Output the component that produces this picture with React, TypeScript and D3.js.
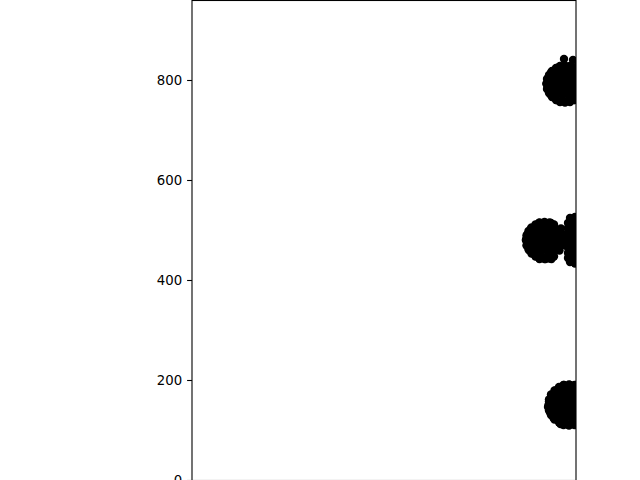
import React, { useEffect, useRef } from 'react';
import * as d3 from 'd3';

type Pt = [number, number];

const yTicks = [0, 200, 400, 600, 800];

// cluster near y ~ 800
const upperCluster: Pt[] = [
  [744, 842], [762, 840], [772, 828],
  [746, 829], [736, 828], [728, 824], [720, 818], [714, 810], [710, 802], [709, 792],
  [710, 782], [714, 774], [720, 766], [728, 760], [736, 756], [746, 755], [756, 756],
  [764, 760], [772, 766], [756, 828], [764, 824], [772, 818],
  [734, 826], [746, 826], [758, 826],
  [718, 815], [730, 815], [742, 815], [754, 815], [766, 815], [778, 815],
  [712, 804], [724, 804], [736, 804], [748, 804], [760, 804], [772, 804], [782, 804],
  [709, 793], [721, 793], [733, 793], [745, 793], [757, 793], [769, 793], [781, 793],
  [711, 782], [723, 782], [735, 782], [747, 782], [759, 782], [771, 782], [782, 782],
  [717, 771], [729, 771], [741, 771], [753, 771], [765, 771], [777, 771],
  [729, 760], [741, 760], [753, 760], [765, 760], [777, 760],
];

// cluster near y ~ 480 (round part + lobe at the right edge)
const middleCluster: Pt[] = [
  [705, 516], [695, 515], [687, 511], [679, 505], [673, 498], [669, 489], [668, 479],
  [669, 469], [673, 461], [679, 453], [687, 447], [695, 443], [705, 442], [715, 443],
  [724, 447], [715, 515], [724, 511],
  [694, 514], [706, 514], [718, 514],
  [678, 503], [690, 503], [702, 503], [714, 503], [726, 503], [738, 503],
  [671, 492], [683, 492], [695, 492], [707, 492], [719, 492], [731, 492], [741, 492],
  [668, 481], [680, 481], [692, 481], [704, 481], [716, 481], [728, 481], [740, 481],
  [670, 470], [682, 470], [694, 470], [706, 470], [718, 470], [730, 470], [742, 470],
  [675, 459], [687, 459], [699, 459], [711, 459], [723, 459], [735, 459],
  [687, 448], [699, 448], [711, 448], [723, 448],
  [695, 442], [707, 442], [719, 442],
  [756, 524], [766, 526], [776, 524],
  [752, 514], [764, 514], [776, 514],
  [752, 504], [764, 504], [776, 504],
  [752, 494], [764, 494], [776, 494],
  [752, 484], [764, 484], [776, 484],
  [752, 474], [764, 474], [776, 474],
  [752, 464], [764, 464], [776, 464],
  [752, 454], [764, 454], [776, 454],
  [752, 444], [764, 444], [776, 444],
  [756, 436], [766, 433], [776, 434],
];

// cluster near y ~ 150
const lowerCluster: Pt[] = [
  [754, 191], [743, 190], [734, 186], [725, 179], [718, 171], [714, 161], [713, 150],
  [714, 139], [718, 130], [725, 121], [734, 115], [743, 110], [754, 109], [765, 110],
  [774, 115], [765, 190], [774, 186],
  [744, 190], [756, 190], [768, 190],
  [727, 179], [739, 179], [751, 179], [763, 179], [775, 179],
  [719, 168], [731, 168], [743, 168], [755, 168], [767, 168], [779, 168],
  [714, 157], [726, 157], [738, 157], [750, 157], [762, 157], [774, 157],
  [712, 146], [724, 146], [736, 146], [748, 146], [760, 146], [772, 146],
  [716, 135], [728, 135], [740, 135], [752, 135], [764, 135], [776, 135],
  [723, 124], [735, 124], [747, 124], [759, 124], [771, 124],
  [737, 112], [749, 112], [761, 112], [773, 112],
];

const App = () => {
  const ref = useRef<SVGSVGElement>(null);

  useEffect(() => {
    const width = 640;
    const height = 480;
    const margin = { top: 0, right: 64, bottom: 0, left: 192 };

    const svg = d3.select(ref.current);
    svg.selectAll('*').remove();

    const x = d3.scaleLinear().domain([0, 768]).range([margin.left, width - margin.right]);
    const y = d3.scaleLinear().domain([0, 960]).range([height - margin.bottom, margin.top]);

    svg
      .append('defs')
      .append('clipPath')
      .attr('id', 'plot-clip')
      .append('rect')
      .attr('x', margin.left)
      .attr('y', margin.top)
      .attr('width', width - margin.left - margin.right)
      .attr('height', height - margin.top - margin.bottom);

    const points = [...upperCluster, ...middleCluster, ...lowerCluster];

    svg
      .append('g')
      .attr('clip-path', 'url(#plot-clip)')
      .selectAll('circle')
      .data(points)
      .enter()
      .append('circle')
      .attr('cx', (d) => x(d[0]))
      .attr('cy', (d) => y(d[1]))
      .attr('r', 4.2)
      .attr('fill', '#000');

    const yAxis = svg
      .append('g')
      .attr('transform', `translate(${margin.left},0)`)
      .call(d3.axisLeft(y).tickValues(yTicks).tickSize(4.9).tickPadding(4.9));

    yAxis.select('.domain').remove();
    yAxis.selectAll('.tick line').style('stroke', '#000').style('stroke-width', '1.1px');
    yAxis
      .selectAll('.tick text')
      .style('font-family', '"DejaVu Sans", sans-serif')
      .style('font-size', '13.3px')
      .style('fill', '#000');

    // frame / spines
    svg
      .append('rect')
      .attr('x', margin.left)
      .attr('y', y(960) + 0.5)
      .attr('width', width - margin.left - margin.right)
      .attr('height', height - margin.top - margin.bottom)
      .attr('fill', 'none')
      .attr('stroke', '#000')
      .attr('stroke-width', 1.1);
  }, []);

  return (
    <svg
      ref={ref}
      width={640}
      height={480}
      style={{ position: 'absolute', left: 0, top: 0, background: '#fff' }}
    />
  );
};

export default App;
